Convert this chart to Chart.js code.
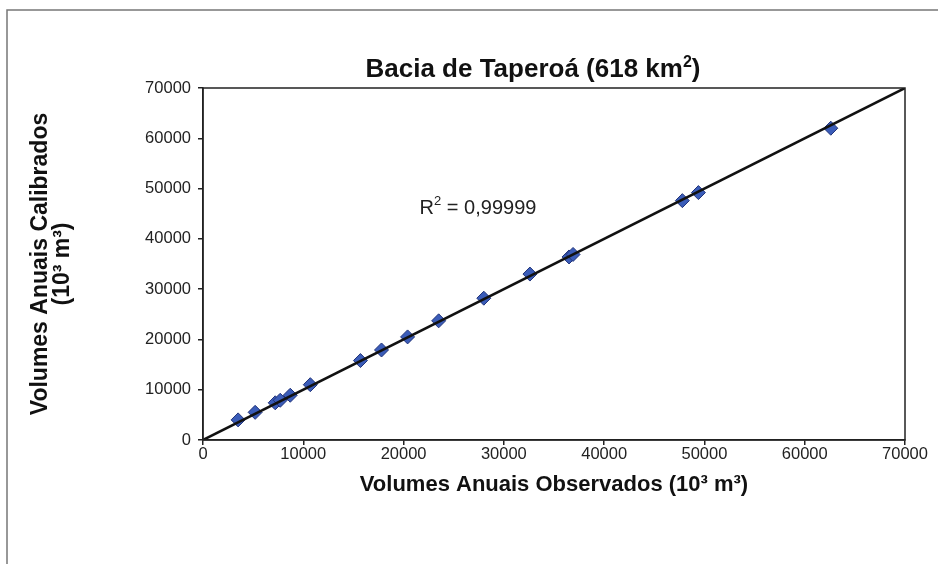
<!DOCTYPE html>
<html lang="pt">
<head>
<meta charset="UTF-8">
<title>Bacia de Taperoá</title>
<script src="https://cdn.jsdelivr.net/npm/chart.js@4.4.0/dist/chart.umd.min.js"></script>
<style>
  body { margin: 0; background: #fff; }
  #wrap { width: 938px; height: 564px; }
</style>
</head>
<body>
<div id="wrap"><canvas id="chart" width="938" height="564"></canvas></div>
<script>
// volumes anuais (10^3 m3)
const observados = [3500, 5200, 7200, 7700, 8700, 10700, 15700, 17800, 20400, 23500, 28000, 32600, 36500, 36900, 47800, 49400, 62600];
const calibrados = [4000, 5500, 7400, 7900, 8900, 11000, 15800, 17900, 20500, 23700, 28200, 33000, 36400, 36900, 47600, 49200, 62000];
// linha de tendencia
const tendX = [0, 70000];
const tendY = [0, 70000];
// texto do R2 (posicao em unidades dos eixos)
const r2Texto = ['R', '2', ' = 0,99999'];
const r2Pos = [21600, 44900];

const pontos = observados.map((v, i) => ({ x: v, y: calibrados[i] }));
const linha = tendX.map((v, i) => ({ x: v, y: tendY[i] }));

const FONT = "'Liberation Sans', Arial, sans-serif";

const extras = {
  id: 'extras',
  beforeDraw(chart) {
    const ctx = chart.ctx;
    ctx.save();
    ctx.fillStyle = '#fff';
    ctx.fillRect(0, 0, chart.width, chart.height);
    ctx.strokeStyle = '#777';
    ctx.lineWidth = 1.5;
    ctx.strokeRect(7, 10, chart.width + 10, chart.height + 10);
    ctx.restore();
  },
  afterDatasetsDraw(chart) {
    const ctx = chart.ctx;
    const a = chart.chartArea;
    ctx.save();
    // moldura da area do grafico
    ctx.strokeStyle = '#222';
    ctx.lineWidth = 1.5;
    ctx.strokeRect(a.left, a.top, a.right - a.left, a.bottom - a.top);

    // titulo
    ctx.fillStyle = '#111';
    ctx.textBaseline = 'alphabetic';
    const t1 = 'Bacia de Taperoá (618 km';
    const big = 'bold 26px ' + FONT;
    const small = 'bold 16px ' + FONT;
    ctx.font = big;
    const w1 = ctx.measureText(t1).width;
    const w3 = ctx.measureText(')').width;
    ctx.font = small;
    const w2 = ctx.measureText('2').width;
    const total = w1 + w2 + w3;
    let x = 533 - total / 2;
    const yb = 77;
    ctx.font = big;
    ctx.fillText(t1, x, yb);
    ctx.font = small;
    ctx.fillText('2', x + w1, yb - 10);
    ctx.font = big;
    ctx.fillText(')', x + w1 + w2, yb);

    // R2
    const sx = chart.scales.x.getPixelForValue(r2Pos[0]);
    const sy = chart.scales.y.getPixelForValue(r2Pos[1]);
    ctx.fillStyle = '#222';
    ctx.font = '20px ' + FONT;
    ctx.fillText(r2Texto[0], sx, sy);
    let wx = sx + ctx.measureText(r2Texto[0]).width;
    ctx.font = '13px ' + FONT;
    ctx.fillText(r2Texto[1], wx, sy - 9);
    wx += ctx.measureText(r2Texto[1]).width;
    ctx.font = '20px ' + FONT;
    ctx.fillText(r2Texto[2], wx, sy);
    ctx.restore();
  }
};

const semSeparador = v => String(v);

new Chart(document.getElementById('chart'), {
  type: 'scatter',
  data: {
    datasets: [
      {
        label: 'Volumes',
        data: pontos,
        pointStyle: 'rectRot',
        pointRadius: 7,
        backgroundColor: '#3a5cb8',
        borderColor: '#22347a',
        borderWidth: 1,
        order: 2
      },
      {
        label: 'Tendência',
        type: 'line',
        data: linha,
        borderColor: '#111',
        borderWidth: 2.5,
        pointRadius: 0,
        fill: false,
        order: 1
      }
    ]
  },
  options: {
    responsive: false,
    animation: false,
    layout: { padding: { left: 29, top: 88, right: 33, bottom: 58 } },
    plugins: {
      legend: { display: false },
      tooltip: { enabled: false }
    },
    scales: {
      x: {
        type: 'linear',
        min: 0, max: 70000,
        ticks: { stepSize: 10000, color: '#222', font: { family: FONT, size: 16.5 }, padding: 0, maxRotation: 0, callback: semSeparador },
        grid: { display: true, drawOnChartArea: false, tickLength: 5, color: '#222', lineWidth: 1.5 },
        border: { color: '#222', width: 1.5 },
        title: {
          display: true,
          text: 'Volumes Anuais Observados (10³ m³)',
          color: '#111',
          font: { family: FONT, size: 22, weight: 'bold', lineHeight: 1.2 },
          padding: { top: 0, bottom: 8 }
        },
        afterFit(s) { s.height = 66; }
      },
      y: {
        type: 'linear',
        min: 0, max: 70000,
        ticks: { stepSize: 10000, color: '#222', font: { family: FONT, size: 16.5 }, padding: 7, callback: semSeparador },
        grid: { display: true, drawOnChartArea: false, tickLength: 5, color: '#222', lineWidth: 1.5 },
        border: { color: '#222', width: 1.5 },
        title: {
          display: true,
          text: ['Volumes Anuais Calibrados', '(10³ m³)'],
          color: '#111',
          font: { family: FONT, size: 23, weight: 'bold', lineHeight: 0.98 },
          padding: { top: 0, bottom: 0 }
        },
        afterFit(s) { s.width = 174; }
      }
    }
  },
  plugins: [extras]
});
</script>
</body>
</html>
